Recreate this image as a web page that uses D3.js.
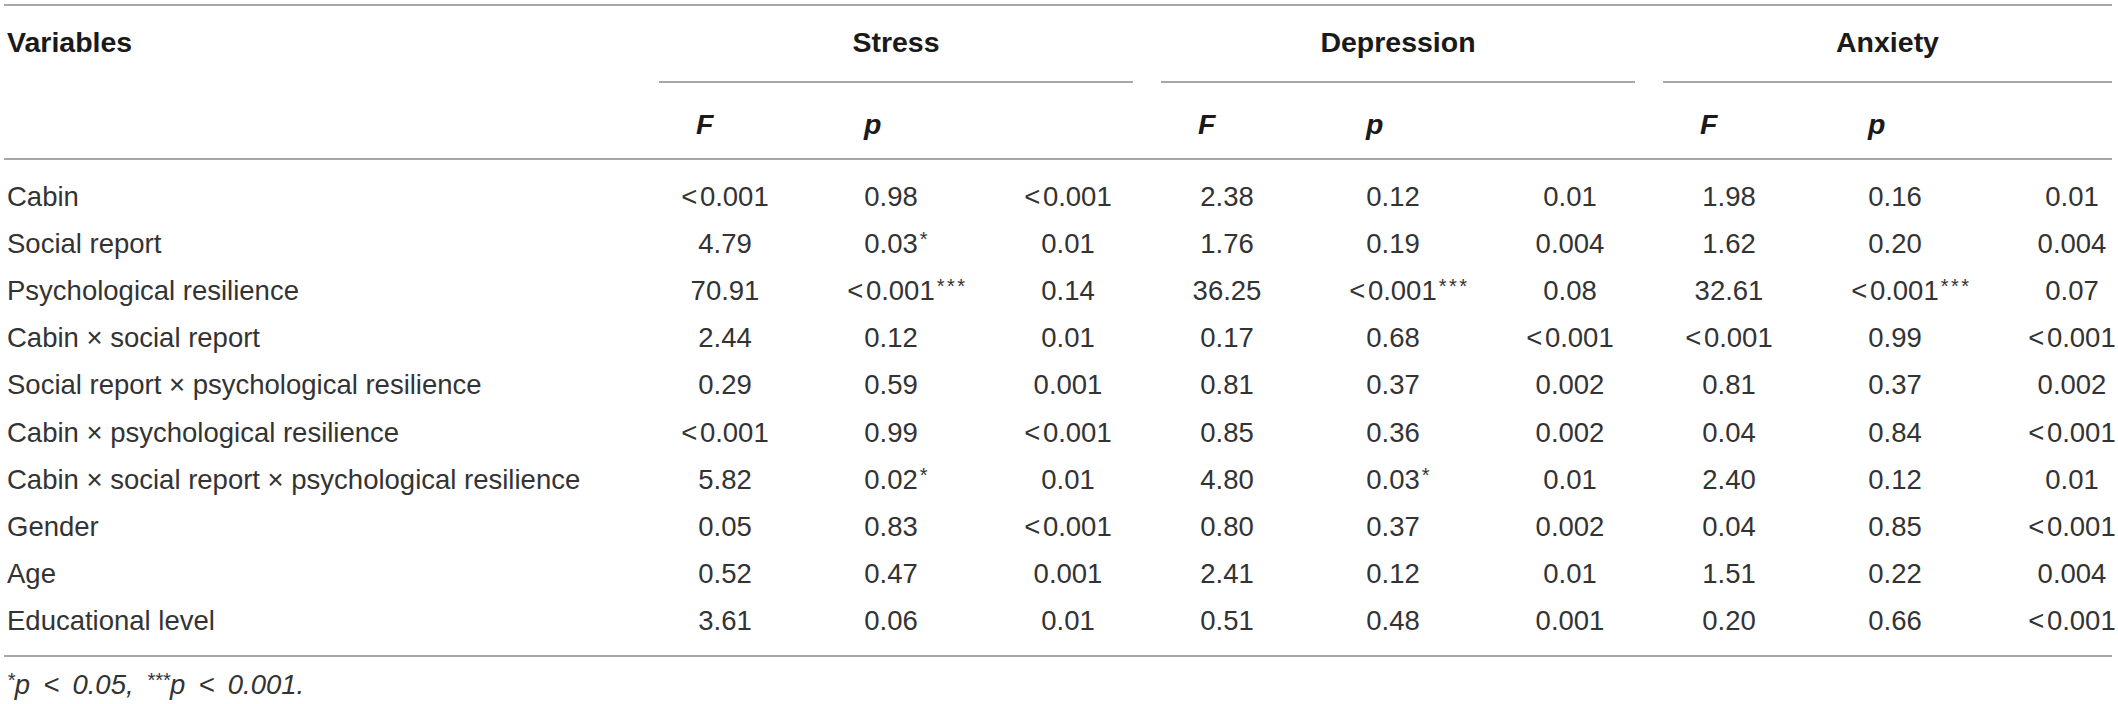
<!DOCTYPE html>
<html>
<head>
<meta charset="utf-8">
<script src="https://cdn.jsdelivr.net/npm/d3@7"></script>
<style>
  html, body { margin: 0; padding: 0; background: #fff; }
  svg { display: block; }
  text { font-family: "Liberation Sans", Arial, Helvetica, sans-serif; }
</style>
</head>
<body>
<div id="table"></div>
<script>
const variables = [
  "Cabin",
  "Social report",
  "Psychological resilience",
  "Cabin \u00d7 social report",
  "Social report \u00d7 psychological resilience",
  "Cabin \u00d7 psychological resilience",
  "Cabin \u00d7 social report \u00d7 psychological resilience",
  "Gender",
  "Age",
  "Educational level"
];

const groups = ["Stress", "Depression", "Anxiety"];
const subColumns = ["F", "p", "eta"];
const subHeaders = ["F", "p", ""];

// values per outcome (strings, since some are "<0.001")
const stressF   = ["<0.001", "4.79", "70.91", "2.44", "0.29", "<0.001", "5.82", "0.05", "0.52", "3.61"];
const stressP   = ["0.98", "0.03*", "<0.001***", "0.12", "0.59", "0.99", "0.02*", "0.83", "0.47", "0.06"];
const stressEta = ["<0.001", "0.01", "0.14", "0.01", "0.001", "<0.001", "0.01", "<0.001", "0.001", "0.01"];

const depressionF   = ["2.38", "1.76", "36.25", "0.17", "0.81", "0.85", "4.80", "0.80", "2.41", "0.51"];
const depressionP   = ["0.12", "0.19", "<0.001***", "0.68", "0.37", "0.36", "0.03*", "0.37", "0.12", "0.48"];
const depressionEta = ["0.01", "0.004", "0.08", "<0.001", "0.002", "0.002", "0.01", "0.002", "0.01", "0.001"];

const anxietyF   = ["1.98", "1.62", "32.61", "<0.001", "0.81", "0.04", "2.40", "0.04", "1.51", "0.20"];
const anxietyP   = ["0.16", "0.20", "<0.001***", "0.99", "0.37", "0.84", "0.12", "0.85", "0.22", "0.66"];
const anxietyEta = ["0.01", "0.004", "0.07", "<0.001", "0.002", "<0.001", "0.01", "<0.001", "0.004", "<0.001"];

const footnote = [["*", "p < 0.05, "], ["***", "p < 0.001."]];

const W = 2118, H = 704;
const fontSize = 27.5, headSize = 28.5;
const textColor = "#333";
const ruleColor = "#8a8a8a";
const tableLeft = 4, tableRight = 2112, labelX = 7;

const columns = {
  Stress:     { F: stressF,     p: stressP,     eta: stressEta },
  Depression: { F: depressionF, p: depressionP, eta: depressionEta },
  Anxiety:    { F: anxietyF,    p: anxietyP,    eta: anxietyEta }
};

const svg = d3.select("#table").append("svg")
  .attr("width", W)
  .attr("height", H);

const groupX = d3.scaleBand().domain(groups).range([659, 2137]).paddingInner(0.0558);
const subX = d3.scaleOrdinal().domain(subColumns).range([66, 232, 409]);
const headX = d3.scaleOrdinal().domain(subColumns).range([37, 205, 372]);
const rowY = d3.scaleBand().domain(variables).range([172.4, 644.4]);

const rowMid = v => rowY(v) + rowY.bandwidth() / 2;
const groupEnd = g => Math.min(groupX(g) + groupX.bandwidth(), tableRight);

// horizontal rules
const rules = [5, 159, 656];
svg.append("g").selectAll("line")
  .data(rules)
  .join("line")
    .attr("x1", tableLeft)
    .attr("x2", tableRight)
    .attr("y1", d => d)
    .attr("y2", d => d)
    .attr("stroke", ruleColor)
    .attr("stroke-width", 1.6);

// header row 1
const head = svg.append("g")
  .style("font-size", headSize + "px")
  .style("font-weight", "bold")
  .attr("fill", "#1a1a1a");

head.append("text")
  .attr("x", labelX)
  .attr("y", 42)
  .attr("dy", "0.35em")
  .text("Variables");

head.selectAll("text.group")
  .data(groups)
  .join("text")
    .attr("class", "group")
    .attr("x", g => (groupX(g) + groupEnd(g)) / 2)
    .attr("y", 42)
    .attr("dy", "0.35em")
    .attr("text-anchor", "middle")
    .text(g => g);

svg.append("g").selectAll("line")
  .data(groups)
  .join("line")
    .attr("x1", g => groupX(g))
    .attr("x2", g => groupEnd(g))
    .attr("y1", 82)
    .attr("y2", 82)
    .attr("stroke", ruleColor)
    .attr("stroke-width", 1.6);

// header row 2
const subCells = groups.flatMap(g => subColumns.map((k, i) => ({ g, k, label: subHeaders[i] })));
head.selectAll("text.sub")
  .data(subCells.filter(d => d.label))
  .join("text")
    .attr("class", "sub")
    .attr("x", d => groupX(d.g) + headX(d.k))
    .attr("y", 124)
    .attr("dy", "0.35em")
    .style("font-style", "italic")
    .text(d => d.label);

// body
const body = svg.append("g")
  .style("font-size", fontSize + "px")
  .attr("fill", textColor);

body.selectAll("text.var")
  .data(variables)
  .join("text")
    .attr("class", "var")
    .attr("x", labelX)
    .attr("y", rowMid)
    .attr("dy", "0.35em")
    .text(d => d);

const cells = groups.flatMap(g => subColumns.flatMap(k =>
  columns[g][k].map((val, i) => {
    const m = val.match(/^(<?)([^*]*)(\**)$/);
    return { g, k, v: variables[i], lt: m[1], num: m[2], stars: m[3] };
  })
));

const cellSel = body.selectAll("g.cell")
  .data(cells)
  .join("g")
    .attr("class", "cell")
    .attr("transform", d => `translate(${groupX(d.g) + subX(d.k)},${rowMid(d.v)})`);

const valText = cellSel.append("text")
  .attr("class", "val")
  .attr("text-anchor", "middle")
  .attr("dy", "0.35em");

valText.filter(d => d.lt).append("tspan").text(d => d.lt);
valText.append("tspan")
  .attr("dx", d => d.lt ? 2.5 : null)
  .text(d => d.num);

// significance stars hang to the right of the centred number
cellSel.filter(d => d.stars)
  .each(function(d) {
    const w = d3.select(this).select("text.val").node().getBBox().width;
    d3.select(this).append("text")
      .attr("x", w / 2 + 2)
      .attr("dy", 2.5)
      .style("font-size", "20px")
      .style("letter-spacing", "2.5px")
      .text(d.stars);
  });

// footnote
const foot = svg.append("text")
  .attr("x", labelX)
  .attr("y", 684)
  .attr("dy", "0.35em")
  .style("font-size", fontSize + "px")
  .style("font-style", "italic")
  .style("word-spacing", "5.5px")
  .attr("fill", textColor);

footnote.forEach(([stars, txt]) => {
  foot.append("tspan").style("font-size", "20px").attr("baseline-shift", "7px").text(stars);
  foot.append("tspan").text(txt);
});
</script>
</body>
</html>
